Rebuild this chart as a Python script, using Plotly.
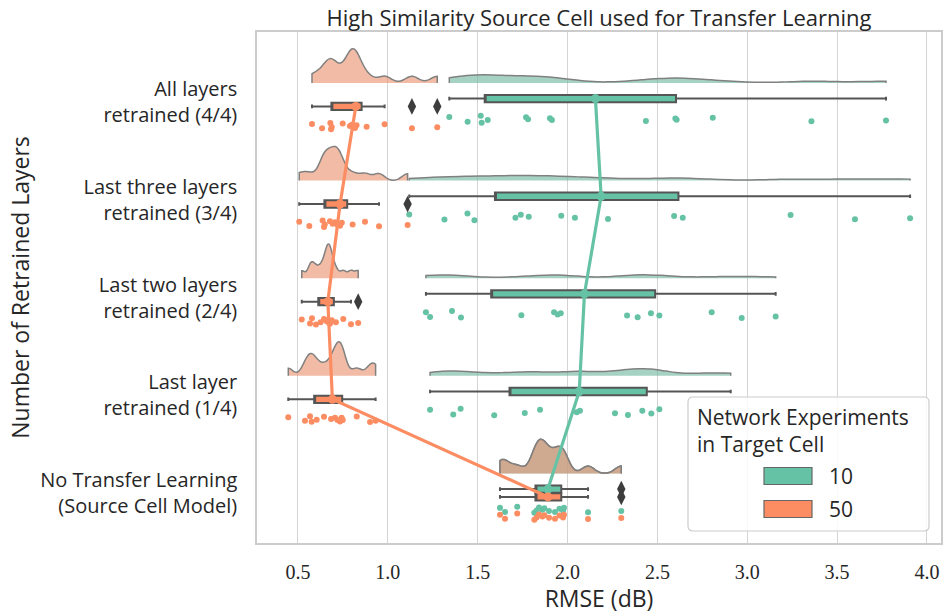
import numpy as np
import plotly.graph_objects as go

# ---------------- data (RMSE in dB) ----------------
categories = [
    "All layers<br>retrained (4/4)",
    "Last three layers<br>retrained (3/4)",
    "Last two layers<br>retrained (2/4)",
    "Last layer<br>retrained (1/4)",
    "No Transfer Learning<br>(Source Cell Model)",
]
hue_labels = ["10", "50"]
x_ticks = [0.5, 1.0, 1.5, 2.0, 2.5, 3.0, 3.5, 4.0]

all_layers_10 = [1.342, 1.444, 1.517, 1.522, 1.556, 1.769, 1.780, 1.902, 1.913, 2.436, 2.600, 2.607, 2.808, 3.357, 3.772]
all_layers_50 = [0.578, 0.634, 0.680, 0.684, 0.688, 0.749, 0.789, 0.800, 0.810, 0.817, 0.826, 0.882, 0.982, 1.134, 1.275]
last_three_10 = [1.119, 1.315, 1.443, 1.482, 1.710, 1.740, 1.784, 1.965, 2.041, 2.225, 2.593, 2.641, 3.241, 3.599, 3.906]
last_three_50 = [0.507, 0.563, 0.637, 0.645, 0.649, 0.678, 0.693, 0.706, 0.719, 0.734, 0.744, 0.804, 0.873, 0.951, 1.110]
last_two_10 = [1.212, 1.235, 1.357, 1.407, 1.743, 1.925, 1.945, 1.962, 2.331, 2.390, 2.464, 2.511, 2.802, 2.969, 3.158]
last_two_50 = [0.521, 0.567, 0.578, 0.600, 0.626, 0.645, 0.660, 0.667, 0.671, 0.678, 0.688, 0.711, 0.752, 0.795, 0.835]
last_layer_10 = [1.235, 1.364, 1.405, 1.592, 1.762, 1.847, 2.051, 2.069, 2.264, 2.336, 2.416, 2.466, 2.511, 2.750, 2.908]
last_layer_50 = [0.446, 0.539, 0.567, 0.576, 0.604, 0.645, 0.684, 0.706, 0.720, 0.734, 0.743, 0.749, 0.827, 0.901, 0.932]
no_transfer_10 = [1.624, 1.652, 1.720, 1.815, 1.828, 1.841, 1.860, 1.871, 1.897, 1.930, 1.955, 1.975, 1.980, 2.114, 2.299]
no_transfer_50 = [1.624, 1.652, 1.720, 1.815, 1.828, 1.841, 1.860, 1.871, 1.897, 1.930, 1.955, 1.975, 1.980, 2.114, 2.299]

series_10 = [all_layers_10, last_three_10, last_two_10, last_layer_10, no_transfer_10]
series_50 = [all_layers_50, last_three_50, last_two_50, last_layer_50, no_transfer_50]

# ---------------- styling ----------------
GREEN = "#66c2a5"
ORANGE = "#fc8d62"
CLOUD = {"10": "rgba(112,182,160,0.62)", "50": "rgba(232,146,112,0.62)"}
BOXLINE = "#555555"
TEXT = "#262626"
SANS = "'Open Sans', Lato, sans-serif"
SERIF = "'Liberation Serif', 'DejaVu Serif', serif"

n = len(categories)
pos = [n - 1 - k for k in range(n)]          # top category at highest y
DODGE = 0.04
CLOUD_OFF = 0.20
CLOUD_W = 0.70
RAIN_OFF = {"10": 0.17, "50": 0.24}
BW_FACTOR = 0.2


def kde_max(d, bw):
    grid = np.linspace(d.min(), d.max(), 400)
    dens = np.exp(-0.5 * ((grid[:, None] - d[None, :]) / bw) ** 2).sum(axis=1) / (len(d) * bw * np.sqrt(2 * np.pi))
    return dens.max()


def box_stats(d):
    q1, q3 = np.percentile(d, [25, 75])
    iqr = q3 - q1
    inside = d[(d >= q1 - 1.5 * iqr) & (d <= q3 + 1.5 * iqr)]
    out = d[(d < q1 - 1.5 * iqr) | (d > q3 + 1.5 * iqr)]
    return q1, q3, inside.min(), inside.max(), out


fig = go.Figure()

# clouds (half violins, scaled within each category like seaborn's scale_hue)
for k in range(n):
    pair = [("10", np.asarray(series_10[k])), ("50", np.asarray(series_50[k]))]
    bws = {h: BW_FACTOR * np.std(d, ddof=1) for h, d in pair}
    peaks = {h: kde_max(d, bws[h]) for h, d in pair}
    top = max(peaks.values())
    for hue, d in pair:
        fig.add_trace(go.Violin(
            x=d, y0=pos[k] + CLOUD_OFF, orientation="h", side="positive",
            width=CLOUD_W * peaks[hue] / top, scalegroup=f"c{k}{hue}", scalemode="width",
            bandwidth=bws[hue], spanmode="hard",
            points=False, fillcolor=CLOUD[hue],
            line=dict(color="#808080", width=1.5),
            hoverinfo="skip", showlegend=False,
        ))

# boxes (no median line shown, as in the reference) + outlier diamonds
for k in range(n):
    for hue, data, col, off in (("10", series_10[k], GREEN, DODGE), ("50", series_50[k], ORANGE, -DODGE)):
        d = np.asarray(data)
        q1, q3, lo, hi, out = box_stats(d)
        fig.add_trace(go.Box(
            y=[pos[k] + off], q1=[q1], median=[q1], q3=[q3], lowerfence=[lo], upperfence=[hi],
            orientation="h", width=0.075, whiskerwidth=0.5, boxpoints=False,
            fillcolor=col, line=dict(color=BOXLINE, width=2),
            hoverinfo="skip", showlegend=False,
        ))
        if len(out):
            fig.add_trace(go.Scatter(
                x=out, y=[pos[k] + off] * len(out), mode="markers",
                marker=dict(symbol="diamond-tall", size=12, color="#3d3d3d", line=dict(width=0)),
                hoverinfo="skip", showlegend=False,
            ))

# rain (strip points)
for k in range(n):
    for hue, data, col in (("10", series_10[k], GREEN), ("50", series_50[k], ORANGE)):
        fig.add_trace(go.Box(
            x=data, y0=pos[k] - RAIN_OFF[hue], orientation="h", width=0.09,
            boxpoints="all", jitter=1.0, pointpos=0,
            fillcolor="rgba(0,0,0,0)", line=dict(color="rgba(0,0,0,0)", width=0),
            marker=dict(color=col, size=6, line=dict(width=0)),
            hoverinfo="skip", showlegend=False,
        ))

# mean lines (pointplot)
for hue, ser, col, off in (("10", series_10, GREEN, DODGE), ("50", series_50, ORANGE, -DODGE)):
    fig.add_trace(go.Scatter(
        x=[float(np.mean(s)) for s in ser], y=[p + off for p in pos],
        mode="lines+markers", line=dict(color=col, width=3.2),
        marker=dict(color=col, size=9), hoverinfo="skip", showlegend=False,
    ))

# ---------------- layout ----------------
PL, PR, PT, PB = 257, 941, 32, 543
W, H = 943, 614

fig.update_layout(
    width=W, height=H,
    margin=dict(l=PL, r=W - PR, t=PT, b=H - PB, autoexpand=False),
    paper_bgcolor="white", plot_bgcolor="white",
    boxmode="overlay", violinmode="overlay", showlegend=False,
    font=dict(family=SANS, color=TEXT),
    title=dict(text="High Similarity Source Cell used for Transfer Learning",
               x=0.5, xref="paper", xanchor="center",
               y=1, yref="paper", yanchor="bottom", pad=dict(b=6),
               font=dict(family=SANS, size=22, color=TEXT)),
)
fig.update_xaxes(
    range=[0.272, 4.078], tickvals=x_ticks, ticktext=[f"{v:.1f}" for v in x_ticks],
    tickfont=dict(family=SERIF, size=20, color=TEXT), ticks="", ticklabelstandoff=10,
    showgrid=True, gridcolor="#d4d4d4", gridwidth=1.2, zeroline=False,
    showline=True, mirror=True, linecolor="#cccccc", linewidth=1.5,
    title=dict(text="RMSE (dB)", font=dict(family=SANS, size=23, color=TEXT), standoff=6),
)
fig.update_yaxes(
    range=[-0.512, 4.722], tickvals=pos, ticktext=categories,
    tickfont=dict(family=SANS, size=20, color=TEXT), ticks="", ticklabelstandoff=14,
    showgrid=False, zeroline=False,
    showline=True, mirror=True, linecolor="#cccccc", linewidth=1.5,
    title=dict(text="Number of Retrained Layers", font=dict(family=SANS, size=23, color=TEXT), standoff=4),
)

# ---------------- legend (drawn in paper space) ----------------
def px(xp):
    return (xp - PL) / (PR - PL)


def py(yp):
    return (PB - yp) / (PB - PT)


def rounded_rect(x0, y0, x1, y1, r):
    rx = r / (PR - PL)
    ry = r / (PB - PT)
    X0, X1, Y0, Y1 = px(x0), px(x1), py(y1), py(y0)
    return (f"M{X0+rx},{Y0} L{X1-rx},{Y0} Q{X1},{Y0} {X1},{Y0+ry} "
            f"L{X1},{Y1-ry} Q{X1},{Y1} {X1-rx},{Y1} L{X0+rx},{Y1} "
            f"Q{X0},{Y1} {X0},{Y1-ry} L{X0},{Y0+ry} Q{X0},{Y0} {X0+rx},{Y0} Z")


fig.add_shape(type="path", path=rounded_rect(688, 397, 929, 531, 5), xref="paper", yref="paper",
              fillcolor="rgba(255,255,255,0.85)", line=dict(color="#cccccc", width=1.2), layer="above")
fig.add_annotation(text="Network Experiments<br>in Target Cell", xref="paper", yref="paper",
                   x=px(695), y=py(430), xanchor="left", yanchor="middle", align="left",
                   showarrow=False, font=dict(family=SANS, size=21, color=TEXT))
for lab, col, yc in ((hue_labels[0], GREEN, 476), (hue_labels[1], ORANGE, 509)):
    fig.add_shape(type="rect", xref="paper", yref="paper", x0=px(764), x1=px(812),
                  y0=py(yc + 8.5), y1=py(yc - 8.5), fillcolor=col,
                  line=dict(color="#666666", width=1.2), layer="above")
    fig.add_annotation(text=lab, xref="paper", yref="paper", x=px(827), y=py(yc),
                       xanchor="left", yanchor="middle", showarrow=False,
                       font=dict(family=SANS, size=21, color=TEXT))

fig.write_html("out.html")
